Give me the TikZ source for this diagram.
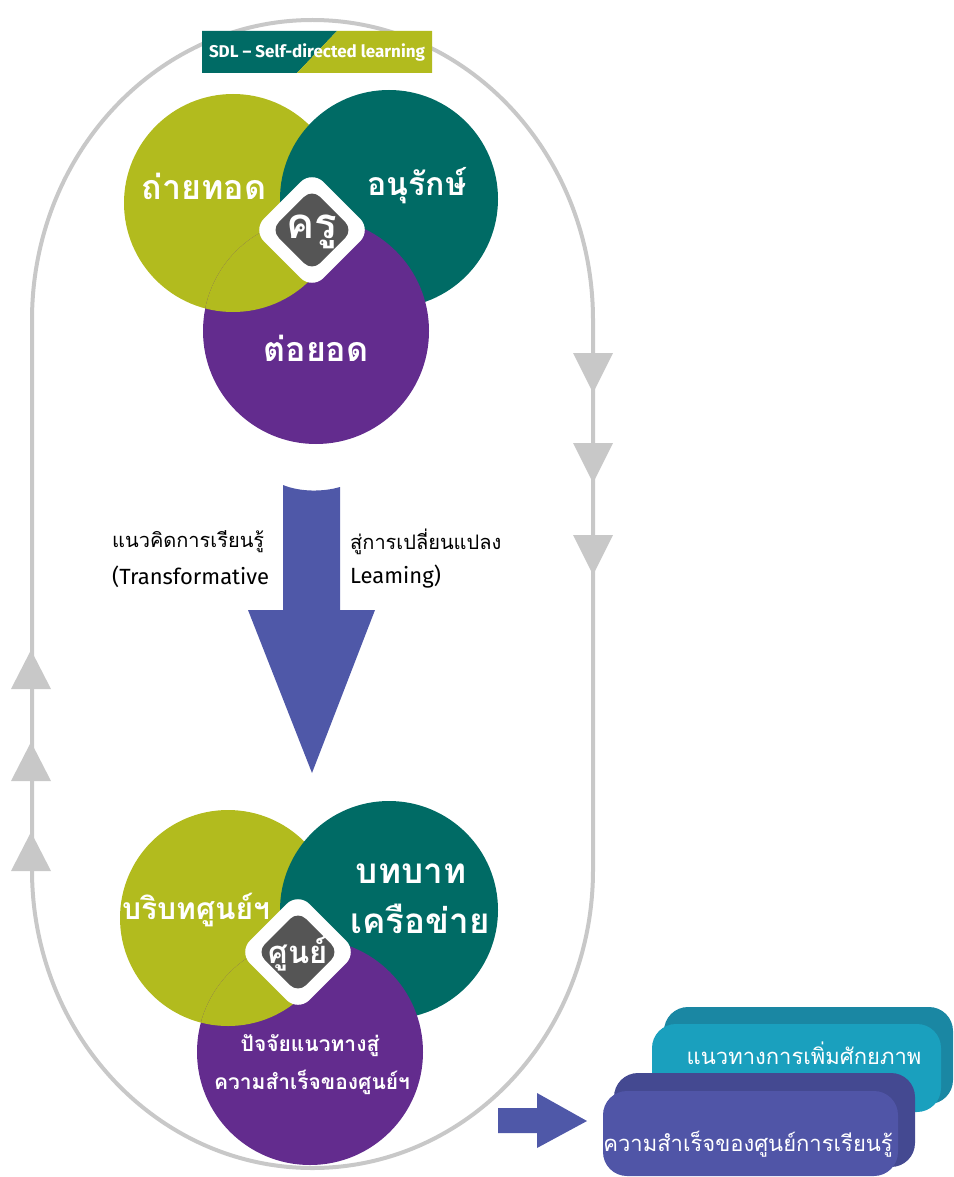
\documentclass[tikz,border=0pt]{standalone}
\usepackage{fontspec}
\setmainfont{Fira Sans}
\newfontfamily\thai[Script=Thai]{Loma}
\definecolor{olv}{HTML}{B2BB1E}
\definecolor{tel}{HTML}{006B65}
\definecolor{prp}{HTML}{632C8E}
\definecolor{dgr}{HTML}{555555}
\definecolor{ovl}{HTML}{C8C8C8}
\definecolor{arb}{HTML}{4F58A8}
\definecolor{tbl}{HTML}{1AA0BE}
\definecolor{tbd}{HTML}{1A87A3}
\definecolor{pbl}{HTML}{5055A7}
\definecolor{pbd}{HTML}{444991}
\tikzset{
  circlbl/.style={text=white, inner sep=0, font=\thai\bfseries\fontsize{32}{36}\selectfont, align=center},
  smalllbl/.style={text=white, inner sep=0, font=\thai\bfseries\fontsize{21}{34}\selectfont, align=center},
  blacklbl/.style={text=black, inner sep=0, font=\thai\fontsize{20}{24}\selectfont, anchor=west},
  latinlbl/.style={text=black, inner sep=0, font=\fontsize{22}{24}\selectfont, anchor=west},
  boxlbl/.style={text=white, inner sep=0, font=\thai\fontsize{22}{24}\selectfont},
  outerdia/.style={fill=white, rotate=45, minimum size=84pt, rounded corners=16pt, inner sep=0},
  innerdia/.style={fill=dgr, rotate=45, minimum size=58pt, rounded corners=11pt, inner sep=0},
}
\begin{document}
\begin{tikzpicture}[x=1pt,y=-1pt]
\useasboundingbox (0,0) rectangle (953,1177);
% oval loop
\draw[ovl, line width=4pt] (593,320) arc[start angle=0, end angle=180, x radius=280.5pt, y radius=300pt]
  -- (32,870) arc[start angle=180, end angle=360, x radius=280.5pt, y radius=298pt] -- cycle;
% arrowheads on the loop
\foreach \yy in {353,443,535} {\fill[ovl] (573,\yy) -- (613,\yy) -- (593,\yy+40) -- cycle;}
\foreach \yy in {650,742,832} {\fill[ovl] (11,\yy+39) -- (51,\yy+39) -- (31,\yy) -- cycle;}
% banner
\fill[tel] (202,31) -- (337,31) -- (297,73) -- (202,73) -- cycle;
\fill[olv] (337,31) -- (432,31) -- (432,73) -- (297,73) -- cycle;
\node[text=white, font=\fontsize{17}{20}\selectfont\bfseries, inner sep=0] (sdl) at (317,52) {SDL -- Self-directed learning};
% top venn
\fill[olv] (233,203) circle[radius=109pt];
\fill[tel] (389,199) circle[radius=109pt];
\fill[prp] (316,331) circle[radius=113pt];
\begin{scope}
  \clip (316,331) circle[radius=113pt];
  \fill[olv] (233,203) circle[radius=109pt];
\end{scope}
\node[outerdia] (d1o) at (312,230) {};
\node[innerdia] (d1i) at (312,230) {};
\node[circlbl, font=\thai\bfseries\fontsize{42}{44}\selectfont] (kru) at (312,232) {ครู};
\node[circlbl, font=\thai\bfseries\fontsize{34}{36}\selectfont] (t1) at (204,186) {ถ่ายทอด};
\node[circlbl] (t2) at (417,186) {อนุรักษ์};
\node[circlbl, font=\thai\bfseries\fontsize{34}{36}\selectfont] (t3) at (316,348) {ต่อยอด};
% big arrow
\fill[arb] (283,485) .. controls (300,492) and (323,492) .. (340,487) -- (340,610) -- (375,610) -- (312,773) -- (248,610) -- (283,610) -- cycle;
\node[blacklbl] (a1) at (112,542) {แนวคิดการเรียนรู้};
\node[latinlbl] (a2) at (112,577) {(Transformative};
\node[blacklbl] (a3) at (350,542) {สู่การเปลี่ยนแปลง};
\node[latinlbl] (a4) at (350,577) {Leaming)};
% bottom venn
\fill[olv] (228,918) circle[radius=108pt];
\fill[tel] (389,910) circle[radius=109pt];
\fill[prp] (310,1052) circle[radius=113pt];
\begin{scope}
  \clip (310,1052) circle[radius=113pt];
  \fill[olv] (228,918) circle[radius=108pt];
\end{scope}
\node[outerdia] (d2o) at (298,952) {};
\node[innerdia] (d2i) at (298,952) {};
\node[circlbl, font=\thai\bfseries\fontsize{31}{34}\selectfont] (sun) at (298,954) {ศูนย์};
\node[circlbl, font=\thai\bfseries\fontsize{30}{32}\selectfont] (b1) at (196,910) {บริบทศูนย์ฯ};
\node[circlbl, font=\thai\bfseries\fontsize{35}{36}\selectfont] (b2) at (411,874) {บทบาท};
\node[circlbl, font=\thai\bfseries\fontsize{35}{36}\selectfont] (b3) at (420,919) {เครือข่าย};
\node[smalllbl] (b4) at (310,1046) {ปัจจัยแนวทางสู่};
\node[smalllbl] (b5) at (312,1082) {ความสำเร็จของศูนย์ฯ};
% small arrow
\fill[arb] (498,1108) -- (537,1108) -- (537,1093) -- (587,1121) -- (537,1148) -- (537,1133) -- (498,1133) -- cycle;
% boxes
\fill[tbd, rounded corners=24pt] (664,1007) rectangle (953,1104);
\fill[tbl, rounded corners=24pt] (652,1024) rectangle (941,1112);
\node[boxlbl] (r1) at (804,1053) {แนวทางการเพิ่มศักยภาพ};
\fill[pbd, rounded corners=24pt] (614,1073) rectangle (915,1167);
\fill[pbl, rounded corners=24pt] (603,1091) rectangle (898,1176);
\node[boxlbl] (r2) at (748,1144) {ความสำเร็จของศูนย์การเรียนรู้};
\end{tikzpicture}
\end{document}
